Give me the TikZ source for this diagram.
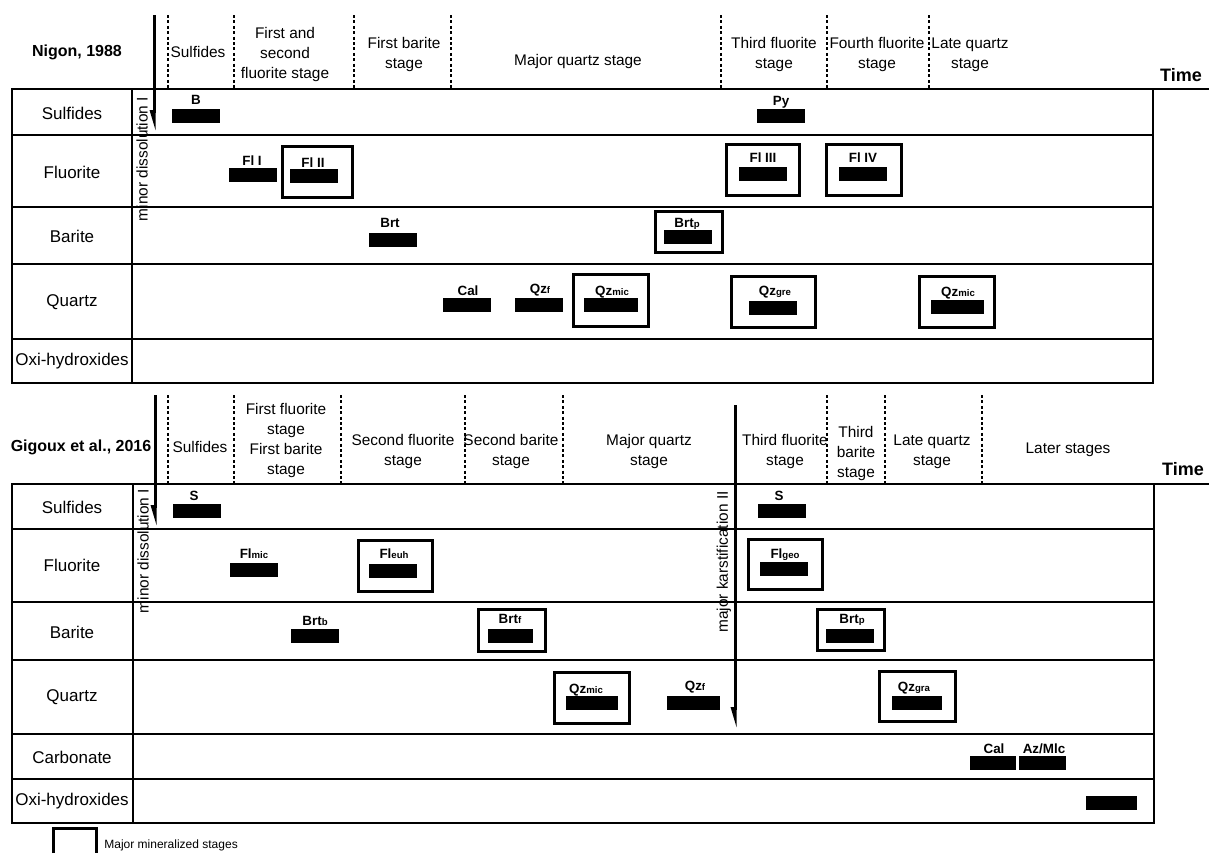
\documentclass[tikz,border=0pt]{standalone}
\usepackage{fontspec}
\setmainfont{Liberation Sans}
\usetikzlibrary{arrows.meta}
\newcommand{\sbs}[1]{\raisebox{-0.3pt}{\fontsize{4.8}{5}\selectfont #1}}

\begin{document}
\begin{tikzpicture}[x=0.5pt, y=-0.5pt,
  rowlab/.style={font=\fontsize{8.5}{10}\selectfont, inner sep=0pt},
  hdr/.style={font=\fontsize{7.7}{10}\selectfont, align=center, inner sep=0pt},
  ttl/.style={font=\fontsize{8}{10}\selectfont\bfseries, inner sep=0pt},
  timelab/.style={font=\fontsize{9}{10}\selectfont\bfseries, inner sep=0pt},
  lab/.style={font=\fontsize{6.7}{8}\selectfont\bfseries, inner sep=0pt, anchor=base},
  bar/.style={fill=black, minimum width=24pt, minimum height=7pt, inner sep=0pt},
  majbox/.style={draw, line width=1.5pt, minimum width=37pt, minimum height=25.5pt, inner sep=0pt},
  grid/.style={line width=0.7pt},
  stagesep/.style={line width=0.6pt, dash pattern=on 1.5pt off 1.2pt},
  evarr/.style={line width=1.5pt, -{Triangle[right, length=8pt, width=4pt]}},
  evlab/.style={font=\fontsize{7.7}{10}\selectfont, rotate=90, inner sep=0pt}
]
\useasboundingbox (0,0) rectangle (1209,853);

% ---------- Nigon, 1988 ----------
\node[ttl] (nigon) at (77,52) {Nigon, 1988};
\foreach \xx in {168,234,354,451,721,827,929}
  \draw[stagesep] (\xx,15) -- (\xx,89);
\node[hdr] (hSulfA)  at (198,52)  {Sulfides};
\node[hdr] (hFlA)    at (285,55)  {First and\\second\\fluorite stage};
\node[hdr] (hBrtA)   at (404,55)  {First barite\\stage};
\node[hdr] (hQzA)    at (578,62)  {Major quartz stage};
\node[hdr] (hFl3A)   at (774,55)  {Third fluorite\\stage};
\node[hdr] (hFl4A)   at (877,55)  {Fourth fluorite\\stage};
\node[hdr] (hLateA)  at (970,55)  {Late quartz\\stage};
\node[timelab] (timeA) at (1181,75) {Time};

\draw[grid] (12,89) -- (1209,89);
\draw[grid] (12,89) rectangle (1153,383);
\foreach \yy in {135,207,264,339}
  \draw[grid] (12,\yy) -- (1153,\yy);
\draw[grid] (132,89) -- (132,383);

\coordinate (disAs) at (154,15);
\coordinate (disAe) at (154,132);
\draw[evarr] (disAs) -- (disAe);
\node[evlab] (disAlab) at (142,159) {minor dissolution I};

\node[rowlab] (rSulfA) at (72,113) {Sulfides};
\node[rowlab] (rFlA)   at (72,172) {Fluorite};
\node[rowlab] (rBrtA)  at (72,236) {Barite};
\node[rowlab] (rQzA)   at (72,302) {Quartz};
\node[rowlab] (rOxA)   at (72,361) {Oxi-hydroxides};

% boxes of the major stages
\node[majbox, minimum width=35pt] (xFlII) at (317,171.5) {};
\node[majbox, minimum width=33.5pt, minimum height=20.5pt] (xBrtpA) at (688.5,231.5) {};
\node[majbox, minimum width=36.5pt] (xFlIII) at (762.5,169.5) {};
\node[majbox, minimum width=37.5pt] (xFlIV) at (863.5,169.5) {};
\node[majbox, minimum width=37.5pt, minimum height=26pt] (xQzmicA) at (610.5,300) {};
\node[majbox, minimum width=42pt] (xQzgre) at (773,301.5) {};
\node[majbox, minimum width=37.5pt] (xQzmicB) at (956.5,301.5) {};

% bars
\node[bar] (bB)      at (196,116)   {};
\node[lab] (lB)      at (196,104)   {B};
\node[bar] (bFlI)    at (252.5,175) {};
\node[lab] (lFlI)    at (252,165)   {Fl I};
\node[bar] (bFlII)   at (313.5,176) {};
\node[lab] (lFlII)   at (313,167)   {Fl II};
\node[bar] (bBrtA)   at (392.5,240) {};
\node[lab] (lBrtA)   at (390,227)   {Brt};
\node[bar] (bBrtpA)  at (687.5,237) {};
\node[lab] (lBrtpA)  at (687,227)   {Brt\sbs{p}};
\node[bar] (bPy)     at (781,116)   {};
\node[lab] (lPy)     at (781,105)   {Py};
\node[bar] (bFlIII)  at (763,173.5) {};
\node[lab] (lFlIII)  at (763,162)   {Fl III};
\node[bar] (bFlIV)   at (862.5,173.5) {};
\node[lab] (lFlIV)   at (863,162)   {Fl IV};
\node[bar] (bCalA)   at (467,304.5) {};
\node[lab] (lCalA)   at (468,295)   {Cal};
\node[bar] (bQzfA)   at (539,304.5) {};
\node[lab] (lQzfA)   at (540,293)   {Qz\sbs{f}};
\node[bar, minimum width=27pt] (bQzmicA) at (611,305) {};
\node[lab] (lQzmicA) at (612,295)   {Qz\sbs{mic}};
\node[bar] (bQzgre)  at (772.5,308) {};
\node[lab] (lQzgre)  at (775,295)   {Qz\sbs{gre}};
\node[bar, minimum width=26.5pt] (bQzmicB) at (957.5,307) {};
\node[lab] (lQzmicB) at (958,296)   {Qz\sbs{mic}};

% ---------- Gigoux et al., 2016 ----------
\node[ttl] (gigoux) at (81,447) {Gigoux et al., 2016};
\foreach \xx in {168,234,341,465,563,827,885,982}
  \draw[stagesep] (\xx,395) -- (\xx,484);
\node[hdr] (hSulfB)  at (200,447)   {Sulfides};
\node[hdr] (hFlBrtB) at (286,440.5) {First fluorite\\stage\\First barite\\stage};
\node[hdr] (hFl2B)   at (403,452)   {Second fluorite\\stage};
\node[hdr] (hBrt2B)  at (511,452)   {Second barite\\stage};
\node[hdr] (hQzB)    at (649,452)   {Major quartz\\stage};
\node[hdr] (hFl3B)   at (785,452)   {Third fluorite\\stage};
\node[hdr] (hBrt3B)  at (856,454)   {Third\\barite\\stage};
\node[hdr] (hLateB)  at (932,452)   {Late quartz\\stage};
\node[hdr] (hLaterB) at (1068,450)  {Later stages};
\node[timelab] (timeB) at (1183,469) {Time};

\draw[grid] (12,484) -- (1209,484);
\draw[grid] (12,484) rectangle (1154,823);
\foreach \yy in {529,602,660,734,779}
  \draw[grid] (12,\yy) -- (1154,\yy);
\draw[grid] (133,484) -- (133,823);

\coordinate (disBs) at (155,395);
\coordinate (disBe) at (155,527);
\draw[evarr] (disBs) -- (disBe);
\node[evlab] (disBlab) at (143,551) {minor dissolution I};

\coordinate (karsts) at (735,405);
\coordinate (karste) at (735,729);
\draw[evarr] (karsts) -- (karste);
\node[evlab] (karstlab) at (724,562) {major karstification II};

\node[rowlab] (rSulfB) at (72,507) {Sulfides};
\node[rowlab] (rFlB)   at (72,565) {Fluorite};
\node[rowlab] (rBrtB)  at (72,632) {Barite};
\node[rowlab] (rQzB)   at (72,697) {Quartz};
\node[rowlab] (rCarbB) at (72,757) {Carbonate};
\node[rowlab] (rOxB)   at (72,801) {Oxi-hydroxides};

% boxes of the major stages
\node[majbox] (xFleuh) at (395,565.5) {};
\node[majbox, minimum width=33.5pt, minimum height=21pt] (xBrtf) at (511.5,630) {};
\node[majbox, minimum height=25pt] (xFlgeo) at (785,564) {};
\node[majbox, minimum width=33.5pt, minimum height=20.5pt] (xBrtpB) at (850.5,629.5) {};
\node[majbox, minimum width=37.5pt] (xQzmicC) at (591.5,697.5) {};
\node[majbox, minimum width=38pt, minimum height=25pt] (xQzgra) at (917,696) {};

% bars
\node[bar] (bSB)     at (197,511)   {};
\node[lab] (lSB)     at (194,500)   {S};
\node[bar] (bFlmic)  at (254,570)   {};
\node[lab] (lFlmic)  at (254,558)   {Fl\sbs{mic}};
\node[bar] (bFleuh)  at (393,570.5) {};
\node[lab] (lFleuh)  at (394,558)   {Fl\sbs{euh}};
\node[bar] (bBrtb)   at (315,635.5) {};
\node[lab] (lBrtb)   at (315,625)   {Brt\sbs{b}};
\node[bar, minimum width=22.5pt] (bBrtf) at (510.5,635.5) {};
\node[lab] (lBrtf)   at (510,623)   {Brt\sbs{f}};
\node[bar] (bSC)     at (782,511)   {};
\node[lab] (lSC)     at (779,500)   {S};
\node[bar] (bFlgeo)  at (784,568.5) {};
\node[lab] (lFlgeo)  at (785,558)   {Fl\sbs{geo}};
\node[bar] (bBrtpB)  at (850,636)   {};
\node[lab] (lBrtpB)  at (852,623)   {Brt\sbs{p}};
\node[bar, minimum width=26pt] (bQzmicC) at (592,702.5) {};
\node[lab] (lQzmicC) at (586,693)   {Qz\sbs{mic}};
\node[bar, minimum width=26.5pt] (bQzfB) at (693.5,702.5) {};
\node[lab] (lQzfB)   at (695,690)   {Qz\sbs{f}};
\node[bar, minimum width=25pt] (bQzgra) at (917,702.5) {};
\node[lab] (lQzgra)  at (914,691)   {Qz\sbs{gra}};
\node[bar, minimum width=23pt] (bCalB) at (993,763) {};
\node[lab] (lCalB)   at (994,753)   {Cal};
\node[bar, minimum width=23.5pt] (bAzMlc) at (1042.5,763) {};
\node[lab] (lAzMlc)  at (1044,753)  {Az/Mlc};
\node[bar, minimum width=25.5pt] (bOx) at (1111.5,802.5) {};

% legend
\draw[line width=1.5pt] (53,853) |- (96,828) -- (96,853);
\node[font=\fontsize{6}{7}\selectfont, anchor=west, inner sep=0pt] (legtxt) at (104,845) {Major mineralized stages};
\end{tikzpicture}
\end{document}
